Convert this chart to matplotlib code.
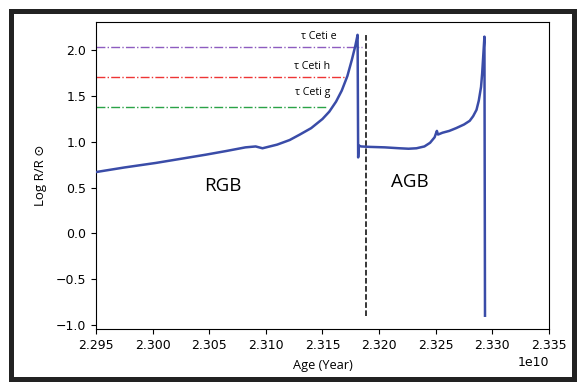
import matplotlib
matplotlib.use("Agg")
import matplotlib.pyplot as plt
from matplotlib.patches import Rectangle
import numpy as np

# Evolutionary track (age in units of 1e10 yr, log R/Rsun)
age_e10 = [2.2950, 2.2975, 2.3003, 2.3025, 2.3047, 2.3065, 2.3082, 2.3091, 2.3097,
           2.3110, 2.3121, 2.3130, 2.3140, 2.3150, 2.3156, 2.3162, 2.3167, 2.3172,
           2.3176, 2.3179, 2.3181, 2.31815, 2.3182, 2.3184, 2.3192, 2.3205, 2.3218,
           2.3226, 2.3233, 2.3240, 2.3245, 2.3249, 2.3251, 2.3252, 2.3256, 2.3262,
           2.3268, 2.3275, 2.3280, 2.3283, 2.3286, 2.3288, 2.3290, 2.3291, 2.3292,
           2.3293, 2.32935]
log_r = [0.67, 0.72, 0.77, 0.815, 0.86, 0.90, 0.94, 0.95, 0.93,
         0.97, 1.02, 1.08, 1.15, 1.25, 1.33, 1.44, 1.56, 1.72,
         1.90, 2.05, 2.17, 0.83, 0.96, 0.95, 0.945, 0.94, 0.93,
         0.925, 0.93, 0.95, 0.99, 1.05, 1.12, 1.08, 1.10, 1.12,
         1.15, 1.19, 1.23, 1.28, 1.35, 1.45, 1.60, 1.75, 1.95,
         2.15, -0.90]

# Planet orbital radii lines
planet_names = ["τ Ceti e", "τ Ceti h", "τ Ceti g"]
planet_logr = [2.04, 1.71, 1.38]
planet_end_e10 = [2.3185, 2.3172, 2.3154]
planet_colors = ["#8e5cc0", "#ee3535", "#2aa347"]
label_x_e10 = [2.3147, 2.3141, 2.3141]
label_y = [2.15, 1.82, 1.54]

# RGB / AGB boundary
boundary_e10 = 2.3188
boundary_range = [-0.90, 2.17]

phase_names = ["RGB", "AGB"]
phase_x_e10 = [2.3062, 2.3227]
phase_y = [0.52, 0.56]

text_font = ["Open Sans", "DejaVu Sans"]

fig = plt.figure(figsize=(5.81, 3.86), dpi=100)
ax = fig.add_axes([0.1652, 0.1477, 0.9449 - 0.1652, 0.943 - 0.1477])

x = np.array(age_e10) * 1e10
ax.plot(x, log_r, color="#3a4ca8", lw=1.8, zorder=3)

xmin = 2.295e10
for name, yv, xe, c, lx, ly in zip(planet_names, planet_logr, planet_end_e10,
                                    planet_colors, label_x_e10, label_y):
    ax.plot([xmin, xe * 1e10], [yv, yv], color=c, ls="-.", lw=1.0, zorder=2)
    ax.text(lx * 1e10, ly, name, ha="center", va="center", fontsize=7.7,
            family=text_font)

ax.plot([boundary_e10 * 1e10] * 2, boundary_range, color="black", ls="--",
        lw=1.1, zorder=2)

for name, px, py in zip(phase_names, phase_x_e10, phase_y):
    ax.text(px * 1e10, py, name, ha="center", va="center", fontsize=13.5,
            family=text_font)

ax.set_xlim(2.295e10, 2.335e10)
ax.set_ylim(-1.045, 2.31)
ax.set_xticks(np.arange(2.295, 2.3351, 0.005) * 1e10)
ax.set_yticks([-1.0, -0.5, 0.0, 0.5, 1.0, 1.5, 2.0])
ax.ticklabel_format(axis="x", style="sci", scilimits=(0, 0), useOffset=False)
ax.tick_params(labelsize=9)
ax.xaxis.get_offset_text().set_fontsize(9)

ax.set_xlabel("Age (Year)", fontsize=9.2, family=text_font, labelpad=5)
ax.set_ylabel("Log R/R ⊙", fontsize=9.5, family=text_font, labelpad=6)

frame = Rectangle((10.5 / 581, 7.5 / 386), 563 / 581, 368 / 386,
                  transform=fig.transFigure, fill=False, edgecolor="#222222",
                  lw=3.6, zorder=10)
fig.patches.append(frame)

fig.savefig("out.png", dpi=100)
